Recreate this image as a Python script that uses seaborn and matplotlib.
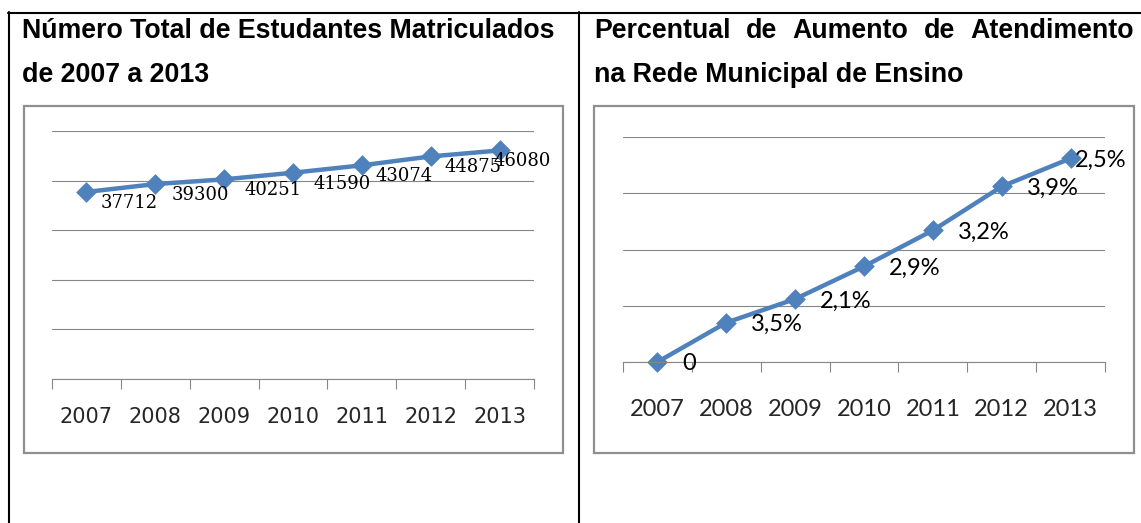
import matplotlib
matplotlib.use("Agg")
import numpy as np
import pandas as pd
import matplotlib.pyplot as plt
import seaborn as sns
from matplotlib.lines import Line2D
from matplotlib.patches import Rectangle
from matplotlib.ticker import MultipleLocator, FixedLocator

# dados
anos = ["2007", "2008", "2009", "2010", "2011", "2012", "2013"]
matriculados = [37712, 39300, 40251, 41590, 43074, 44875, 46080]
aumento_acumulado = [0, 3.5, 5.6, 8.5, 11.7, 15.6, 18.1]
aumento_rotulos = ["0", "3,5%", "2,1%", "2,9%", "3,2%", "3,9%", "2,5%"]

titulo_esq = ["Número Total de Estudantes Matriculados", "de 2007 a 2013"]
titulo_dir = ["Percentual de Aumento de Atendimento", "na Rede Municipal de Ensino"]

# deslocamento dos rotulos (pixels)
dx_esq = [14, 16, 20, 21, 14, 14, -6]
dx_dir = [25, 25, 25, 25, 25, 25, 4]

W, H = 1141, 523
azul = "#4F81BD"
cinza = "#868686"

sns.set_style("white")
plt.rcParams["font.family"] = ["Liberation Sans", "DejaVu Sans"]

fig = plt.figure(figsize=(W / 100, H / 100), dpi=100)


def px_rect(x0, y0, x1, y1):
    return [x0 / W, 1 - y1 / H, (x1 - x0) / W, (y1 - y0) / H]


# linhas da tabela
fig.add_artist(Line2D([8 / W, 1], [1 - 12.5 / H] * 2, color="black", lw=1.5))
fig.add_artist(Line2D([8.5 / W] * 2, [0, 1 - 12 / H], color="black", lw=1.5))
fig.add_artist(Line2D([579 / W] * 2, [0, 1 - 12 / H], color="black", lw=1.5))

# caixas dos graficos
for x0, x1 in [(24, 563), (594, 1134)]:
    r = px_rect(x0, 106, x1, 453)
    fig.add_artist(Rectangle((r[0], r[1]), r[2], r[3], transform=fig.transFigure,
                             fill=False, ec="#8f8f8f", lw=1.6))

# titulos
tfont = dict(fontsize=19.3, fontweight="bold", color="black", va="center")
fig.text(22 / W, 1 - 31 / H, titulo_esq[0], **tfont)
fig.text(22 / W, 1 - 75 / H, titulo_esq[1], **tfont)

# titulo da direita justificado
renderer = fig.canvas.get_renderer()
palavras = titulo_dir[0].split()
objs = [fig.text(0, 1 - 31 / H, p, **tfont) for p in palavras]
larguras = [o.get_window_extent(renderer).width for o in objs]
esp = (1134 - 594 - sum(larguras)) / (len(palavras) - 1)
x = 594
for o, w in zip(objs, larguras):
    o.set_x(x / W)
    x += w + esp
fig.text(594 / W, 1 - 75 / H, titulo_dir[1], **tfont)


def estilo(ax, ymax, passo, fonte_tick, tam_tick, pad):
    ax.set_xlim(-0.5, 6.5)
    ax.set_ylim(0, ymax)
    ax.yaxis.set_major_locator(MultipleLocator(passo))
    ax.grid(axis="y", color=cinza, lw=0.8)
    ax.grid(axis="x", visible=False)
    ax.set_axisbelow(True)
    ax.tick_params(axis="y", length=0, labelleft=False)
    ax.xaxis.set_minor_locator(FixedLocator(np.arange(-0.5, 7, 1)))
    ax.tick_params(axis="x", which="minor", bottom=True, length=7, width=0.8,
                   color=cinza, direction="out")
    ax.tick_params(axis="x", which="major", bottom=True, length=0, pad=pad,
                   labelsize=tam_tick, labelcolor="#262626")
    for t in ax.get_xticklabels():
        t.set_family(fonte_tick)
    for s in ["left", "right", "top"]:
        ax.spines[s].set_visible(False)
    ax.spines["bottom"].set_color(cinza)
    ax.spines["bottom"].set_linewidth(0.8)
    ax.set_xlabel("")
    ax.set_ylabel("")
    ax.patch.set_alpha(0)


# grafico 1 - matriculados
df1 = pd.DataFrame({"ano": anos, "valor": matriculados})
ax1 = fig.add_axes(px_rect(52, 131, 534, 379))
sns.pointplot(data=df1, x="ano", y="valor", ax=ax1, color=azul, markers="D",
              markersize=8, linewidth=3.2, errorbar=None)
estilo(ax1, 50000, 10000, "DejaVu Sans", 15, 20)
for i, (v, dx) in enumerate(zip(matriculados, dx_esq)):
    ax1.annotate(str(v), (i, v), xytext=(dx, -11), textcoords="offset pixels",
                 ha="left", va="center", fontsize=13, family="DejaVu Serif",
                 color="black", annotation_clip=False)

# grafico 2 - aumento percentual
df2 = pd.DataFrame({"ano": anos, "valor": aumento_acumulado})
ax2 = fig.add_axes(px_rect(623, 137, 1105, 362))
sns.pointplot(data=df2, x="ano", y="valor", ax=ax2, color=azul, markers="D",
              markersize=8, linewidth=3.2, errorbar=None, clip_on=False)
estilo(ax2, 20, 5, "Lato", 17, 27)
for i, (v, r, dx) in enumerate(zip(aumento_acumulado, aumento_rotulos, dx_dir)):
    ax2.annotate(r, (i, v), xytext=(dx, -2), textcoords="offset pixels",
                 ha="left", va="center", fontsize=17, family="Lato",
                 color="black", annotation_clip=False)

fig.savefig("out.png", dpi=100)
